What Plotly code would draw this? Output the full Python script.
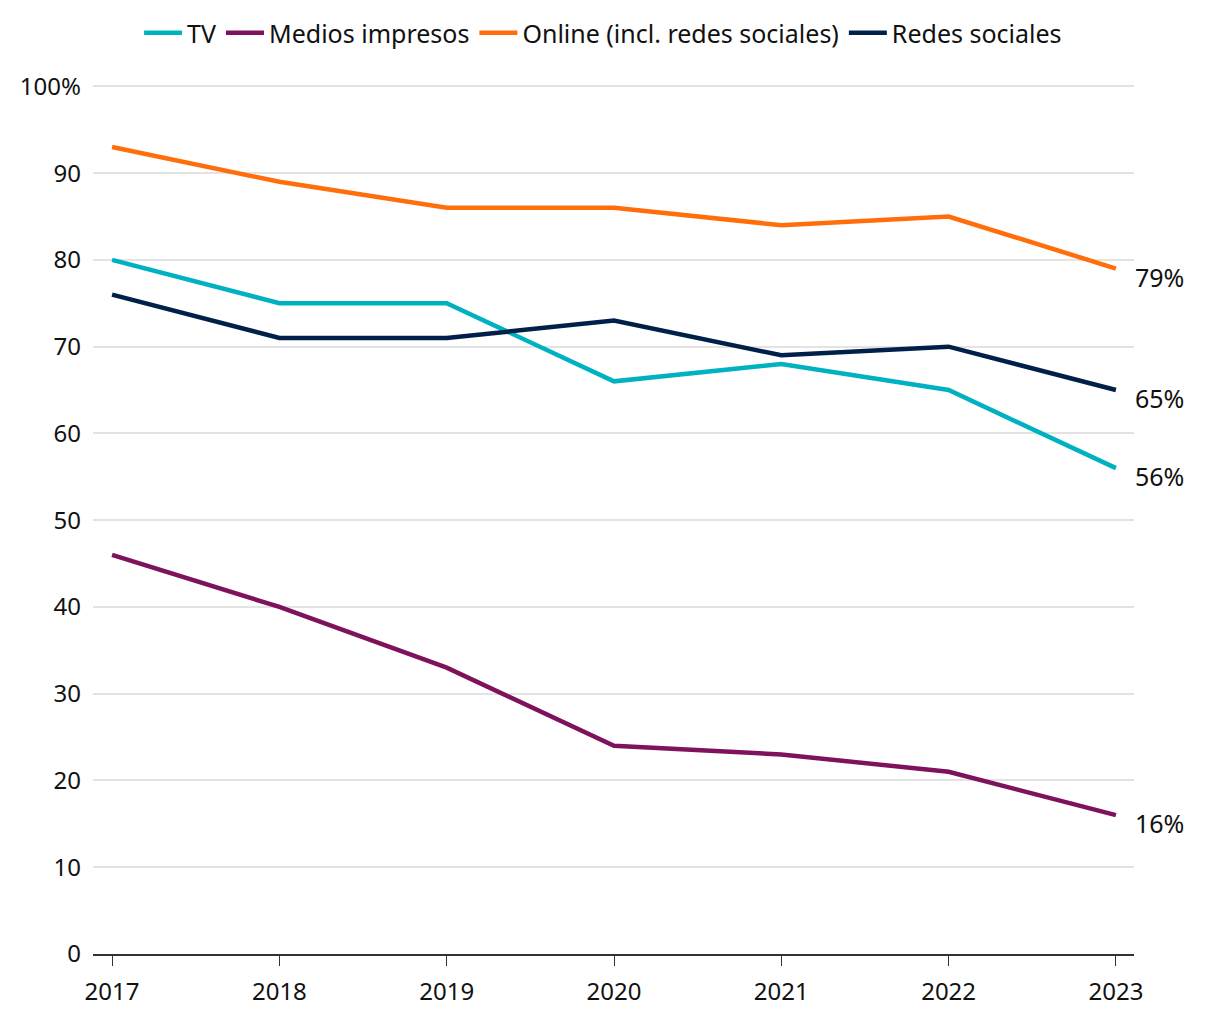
import plotly.graph_objects as go

years = [2017, 2018, 2019, 2020, 2021, 2022, 2023]
series_names = ["TV", "Medios impresos", "Online (incl. redes sociales)", "Redes sociales"]
tv = [80, 75, 75, 66, 68, 65, 56]
print_media = [46, 40, 33, 24, 23, 21, 16]
online = [93, 89, 86, 86, 84, 85, 79]
social = [76, 71, 71, 73, 69, 70, 65]
colors = ["#00b2c1", "#7f125c", "#ff6e0a", "#00204a"]
y_ticks = [0, 10, 20, 30, 40, 50, 60, 70, 80, 90, 100]
y_tick_labels = ["0", "10", "20", "30", "40", "50", "60", "70", "80", "90", "100%"]

font_family = "Noto Sans, Lato, sans-serif"

fig = go.Figure()
for name, vals, col in zip(series_names, [tv, print_media, online, social], colors):
    fig.add_trace(go.Scatter(
        x=years, y=vals, name=name, mode="lines",
        line=dict(color=col, width=4.5),
        hoverinfo="skip",
    ))

# End labels
for vals, col in zip([tv, print_media, online, social], colors):
    fig.add_annotation(
        x=years[-1], y=vals[-1], text=f"{vals[-1]}%",
        showarrow=False, xanchor="left", yanchor="middle",
        xshift=17, yshift=-8,
        font=dict(size=25, color="#111111", family=font_family),
    )

fig.update_layout(
    width=1220, height=1020,
    margin=dict(l=85, r=94, t=74, b=74, autoexpand=False),
    plot_bgcolor="white", paper_bgcolor="white",
    font=dict(family=font_family, size=24, color="#111111"),
    showlegend=True,
    legend=dict(
        orientation="h", x=0.49, xanchor="center", y=0.998, yanchor="top",
        yref="container", font=dict(size=25, color="#111111"),
        itemwidth=38, tracegroupgap=0, traceorder="normal",
    ),
    xaxis=dict(
        range=[2016.886, 2023.108], automargin=False,
        tickvals=years, ticktext=[str(y) for y in years],
        showgrid=False, zeroline=False,
        showline=True, linecolor="#333333", linewidth=2,
        ticks="outside", ticklen=10, tickcolor="#333333", tickwidth=1,
        ticklabelstandoff=5,
        tickfont=dict(size=24),
    ),
    yaxis=dict(
        range=[0, 100.5], automargin=False,
        tickvals=y_ticks, ticktext=y_tick_labels,
        showgrid=True, gridcolor="#e3e3e3", gridwidth=1.5,
        zeroline=False, showline=False, ticks="", ticklen=0,
        ticklabelstandoff=11,
        tickfont=dict(size=24),
    ),
)

fig.write_html("out.html")
